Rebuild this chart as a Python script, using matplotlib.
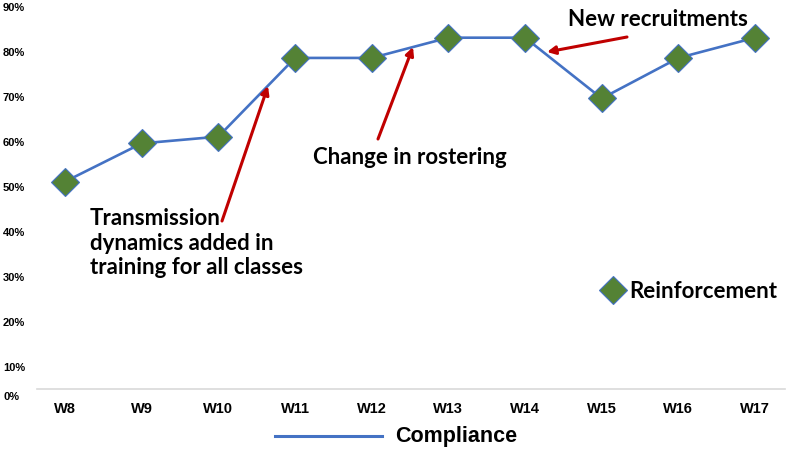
import matplotlib
matplotlib.use("Agg")
import matplotlib.pyplot as plt

weeks = ["W8", "W9", "W10", "W11", "W12", "W13", "W14", "W15", "W16", "W17"]
compliance = [51, 59.5, 61, 78.5, 78.5, 83, 83, 69.5, 78.5, 83]
ytick_vals = [10, 20, 30, 40, 50, 60, 70, 80, 90]
ytick_labels = ["10%", "20%", "30%", "40%", "50%", "60%", "70%", "80%", "90%"]
zero_label = "0%"
series_name = "Compliance"
marker_name = "Reinforcement"
notes = ["Transmission\ndynamics added in\ntraining for all classes",
         "Change in rostering",
         "New recruitments"]

LINE = "#4472C4"
GREEN = "#548235"
RED = "#C00000"

fig = plt.figure(figsize=(8, 4.56), dpi=100)
ax = fig.add_axes([37/800, 1 - 390/456, (785-37)/800, 390/456])
x = list(range(len(weeks)))
ax.plot(x, compliance, color=LINE, lw=1.9, marker="D", markersize=14,
        markerfacecolor=GREEN, markeredgecolor=LINE, markeredgewidth=0.8,
        zorder=3, clip_on=False)
ax.set_xlim(-0.365, 9.39)
ax.set_ylim(4.9, 91.6)

for s in ["top", "right", "left"]:
    ax.spines[s].set_visible(False)
ax.spines["bottom"].set_color("#D9D9D9")
ax.spines["bottom"].set_linewidth(1.2)

ax.set_xticks(x)
ax.set_xticklabels(weeks, fontsize=10.5, fontweight="bold", family="Liberation Sans")
ax.tick_params(axis="x", length=0, pad=9)
ax.set_yticks(ytick_vals)
ax.set_yticklabels(ytick_labels, fontsize=8, fontweight="bold", family="Liberation Sans")
ax.tick_params(axis="y", length=0, pad=24.5)
for lab in ax.get_yticklabels():
    lab.set_horizontalalignment("left")
ax.annotate(zero_label, xy=(0, 0), xycoords="axes fraction", xytext=(-34, -7),
            textcoords="offset pixels", ha="left", va="center", fontsize=8,
            fontweight="bold", family="Liberation Sans")

afont = dict(fontsize=16, fontweight="bold", family="Lato", color="black")
arrow = dict(arrowstyle="-|>", color=RED, lw=2.2, mutation_scale=12, shrinkA=0, shrinkB=0)

def px(xp, yp):
    # figure pixel -> figure fraction
    return (xp / 800, 1 - yp / 456)

ax.annotate("", xy=px(268, 87), xycoords="figure fraction",
            xytext=px(222, 222), textcoords="figure fraction", arrowprops=arrow)
ax.annotate("", xy=px(413, 48), xycoords="figure fraction",
            xytext=px(378, 140), textcoords="figure fraction", arrowprops=arrow)
ax.annotate("", xy=px(547, 53), xycoords="figure fraction",
            xytext=px(627, 38), textcoords="figure fraction", arrowprops=arrow)

fig.text(*px(90, 243), notes[0], ha="left", va="center", linespacing=1.2, **afont)
fig.text(*px(313, 158), notes[1], ha="left", va="center", **afont)
fig.text(*px(568, 20), notes[2], ha="left", va="center", **afont)

# reinforcement legend-like marker
fig.lines.append(plt.Line2D([613/800], [1 - 291/456], transform=fig.transFigure,
                            marker="D", markersize=14, markerfacecolor=GREEN,
                            markeredgecolor=LINE, markeredgewidth=0.8, linestyle="none"))
fig.text(*px(629, 291), marker_name, ha="left", va="center", **afont)

# series legend
fig.lines.append(plt.Line2D([275/800, 382/800], [1 - 437/456, 1 - 437/456],
                            transform=fig.transFigure, color=LINE, lw=2.2))
fig.text(*px(395, 437), series_name, ha="left", va="center", fontsize=15.5,
         fontweight="bold", family="Liberation Sans")

fig.savefig("out.png", dpi=100)
